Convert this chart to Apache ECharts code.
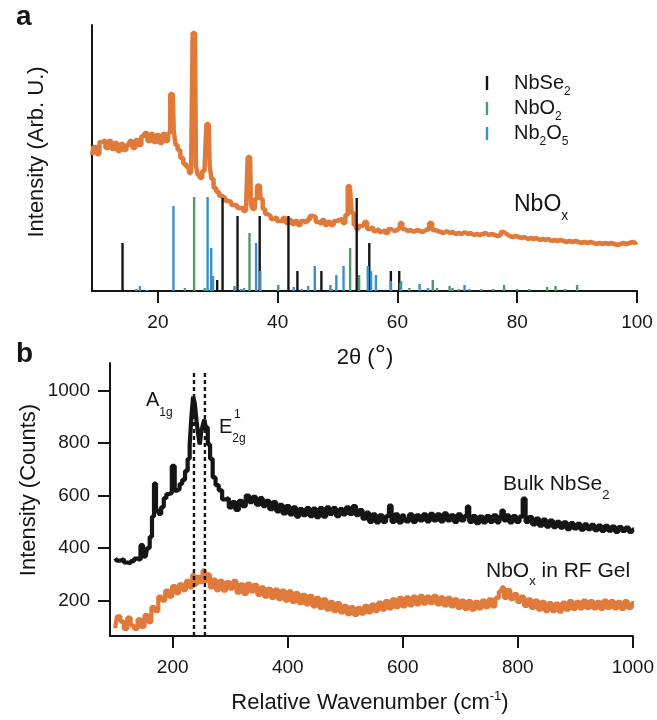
<!DOCTYPE html>
<html><head><meta charset="utf-8">
<script src="https://cdn.jsdelivr.net/npm/echarts@6/dist/echarts.min.js"></script>
<style>html,body{margin:0;padding:0;background:#fff}#c{width:657px;height:720px}</style>
</head><body><div id="c"></div>
<script>
const FONT = '"Liberation Sans", Arial, Helvetica, sans-serif';
const INK = '#151515';
const ORANGE = '#e07a3a';
const GREEN = '#4f9a6c';
const BLUE = '#3d8fcb';

// Panel a: tick labels
const xrdTicks = [20, 40, 60, 80, 100];
// Panel b: tick labels
const ramanXTicks = [200, 400, 600, 800, 1000];
const ramanYTicks = [200, 400, 600, 800, 1000];

// Panel a: XRD of NbOx (2θ, arb. intensity)
const xrdNbOx = [[9.0,136],[9.5,144],[10.0,137],[10.5,149],[11.0,151],[11.5,143],[12.0,150],[12.5,142],[13.0,148],[13.5,140],[14.0,147],[14.5,141],[15.0,146],[15.5,150],[16.0,143],[16.5,151],[17.0,146],[17.5,155],[18.0,158],[18.5,150],[19.0,157],[19.5,149],[20.0,156],[20.5,148],[21.0,157],[21.5,150],[21.9,158],[22.2,197],[22.5,197],[22.8,160],[23.1,146],[23.5,141],[24.0,133],[24.5,127],[25.0,124],[25.4,118],[25.7,121],[25.9,258],[26.2,258],[26.5,125],[26.8,116],[27.2,113],[27.6,120],[28.0,124],[28.2,167],[28.5,167],[28.8,125],[29.1,112],[29.5,103],[30.0,99],[30.5,95],[31.0,93],[31.5,90],[32.0,89],[32.5,86],[33.0,86],[33.5,83],[34.0,83],[34.5,80],[34.9,82],[35.1,134],[35.4,134],[35.7,86],[36.0,82],[36.4,92],[36.7,105],[37.0,106],[37.3,92],[37.7,82],[38.1,77],[38.6,75],[39.1,72],[39.6,74],[40.1,70],[40.6,70],[41.1,73],[41.6,68],[42.1,71],[42.6,67],[43.1,70],[43.6,66],[44.1,70],[44.6,68],[45.1,71],[45.6,75],[46.1,74],[46.6,69],[47.1,67],[47.6,71],[48.1,66],[48.6,69],[49.1,66],[49.6,70],[50.1,71],[50.6,72],[51.1,68],[51.5,76],[51.9,105],[52.2,105],[52.5,78],[52.9,66],[53.3,62],[53.7,65],[54.2,66],[54.7,69],[55.2,62],[55.7,64],[56.2,60],[56.7,62],[57.2,59],[57.7,61],[58.2,58],[58.7,62],[59.2,60],[59.7,61],[60.2,63],[60.6,68],[61.0,62],[61.5,60],[62.0,61],[62.5,59],[63.0,61],[63.5,60],[64.0,59],[64.5,61],[65.0,62],[65.6,68],[66.0,61],[66.5,60],[67.0,59],[67.5,58],[68.0,60],[68.5,58],[69.0,59],[69.5,57],[70.0,58],[70.5,57],[71.0,59],[71.5,57],[72.0,58],[72.5,56],[73.0,57],[73.5,56],[74.0,57],[74.5,58],[75.0,56],[75.5,57],[76.0,56],[76.5,55],[77.0,56],[77.5,59],[78.0,57],[78.5,55],[79.0,54],[79.5,55],[80.0,54],[80.5,53],[81.0,54],[81.5,52],[82.0,53],[82.5,52],[83.0,53],[83.5,51],[84.0,52],[84.5,51],[85.0,52],[85.5,50],[86.0,51],[86.5,50],[87.0,51],[87.5,50],[88.0,49],[88.5,50],[89.0,49],[89.5,50],[90.0,49],[90.5,48],[91.0,49],[91.5,48],[92.0,49],[92.5,48],[93.0,47],[93.5,48],[94.0,47],[94.5,48],[95.0,47],[95.5,48],[96.0,47],[96.5,46],[97.0,47],[97.5,48],[98.0,47],[98.5,48],[99.0,49],[99.5,48],[100.0,49]];

// Panel a: reference patterns (2θ, relative height)
const refNbSe2 = [[14.1,48],[29.9,11],[30.8,93],[33.3,75],[37.0,75],[41.8,75],[43.3,20],[47.3,20],[53.2,93],[55.3,48],[58.9,20],[60.3,20]];
const refNbO2 = [[16.4,2],[24.5,3],[26.05,94],[27.8,3],[33.9,2],[35.3,58],[40.1,6],[44.0,2],[49.0,2],[52.1,43],[53.6,16],[60.6,10],[62.0,3],[65.9,11],[66.6,3],[68.7,5],[70.2,2],[72.0,2],[74.0,2],[76.0,2],[77.8,6],[80.0,2],[82.0,2],[85.0,4],[86.4,5],[88.0,2],[90.0,6]];
const refNb2O5 = [[17.0,5],[18.2,1],[22.6,85],[28.3,94],[28.9,43],[29.2,15],[32.8,5],[34.4,3],[36.4,48],[37.1,20],[42.7,4],[45.1,5],[46.2,25],[48.8,6],[49.8,16],[51.0,25],[55.05,25],[55.6,20],[56.4,16],[58.9,10],[60.5,8],[63.7,7],[65.1,3],[69.2,3],[71.2,6]];

// Panel b: Raman spectra (cm-1, counts)
const ramanBulk = [[100,361],[106,352],[112,358],[118,345],[124,342],[130,350],[136,360],[141,355],[147,411],[150,368],[153,367],[158,400],[162,443],[166,520],[169,646],[173,543],[178,530],[182,556],[187,590],[191,606],[196,610],[201,713],[206,619],[210,625],[214,644],[219,660],[224,694],[228,740],[231,795],[234,900],[237,977],[240,950],[243,883],[246,830],[248,795],[251,840],[254,870],[256,889],[259,860],[263,795],[267,740],[272,669],[277,640],[283,620],[289,585],[295,590],[300,555],[306,575],[312,545],[318,580],[324,560],[330,600],[336,575],[342,595],[348,565],[354,590],[359,560],[365,580],[371,548],[377,575],[383,540],[388,565],[394,532],[400,560],[406,528],[412,555],[417,520],[423,548],[429,525],[435,552],[441,522],[446,550],[452,518],[458,552],[464,520],[470,555],[475,530],[481,552],[487,522],[493,548],[498,528],[504,555],[510,530],[516,560],[521,525],[527,545],[533,512],[539,535],[544,500],[550,528],[556,498],[562,525],[568,500],[574,522],[578,562],[583,500],[589,528],[595,498],[602,525],[608,502],[614,528],[620,500],[626,525],[632,505],[638,528],[644,502],[650,530],[656,505],[662,528],[668,502],[674,532],[680,505],[686,525],[692,500],[698,528],[704,505],[710,522],[713,558],[718,500],[724,522],[730,495],[736,520],[742,498],[748,522],[754,500],[760,525],[766,498],[770,520],[773,543],[778,505],[782,525],[788,498],[794,522],[800,500],[806,520],[811,588],[816,500],[822,518],[828,490],[834,512],[840,485],[846,508],[852,482],[858,505],[864,480],[870,500],[876,478],[882,498],[888,472],[894,495],[900,475],[906,492],[912,470],[918,490],[924,472],[930,488],[936,468],[942,486],[948,465],[954,485],[960,466],[966,482],[972,462],[978,480],[984,465],[990,478],[996,462],[1002,470]];
const ramanGel = [[100,95],[106,140],[112,120],[118,92],[124,135],[130,105],[136,92],[142,128],[148,100],[154,145],[160,118],[166,175],[172,160],[178,215],[184,200],[190,238],[196,215],[202,255],[208,228],[214,262],[220,240],[226,275],[232,250],[236,298],[240,262],[245,290],[250,270],[254,315],[258,275],[262,300],[267,250],[272,280],[278,240],[284,275],[290,238],[296,270],[302,245],[308,275],[314,230],[320,262],[326,225],[332,265],[338,235],[344,260],[350,222],[356,250],[362,215],[368,245],[374,210],[380,242],[386,205],[392,238],[398,200],[404,235],[410,195],[416,228],[422,190],[428,222],[434,185],[440,218],[446,178],[452,210],[458,172],[464,205],[470,165],[476,195],[482,160],[488,190],[494,155],[500,180],[506,148],[512,175],[518,145],[524,172],[530,150],[536,180],[542,155],[548,185],[554,160],[560,192],[566,165],[572,198],[578,170],[584,205],[590,175],[596,210],[602,178],[608,212],[614,182],[620,215],[626,185],[632,218],[638,188],[644,215],[650,190],[656,218],[662,185],[668,212],[674,182],[680,210],[686,178],[692,205],[698,172],[704,200],[710,168],[716,198],[722,165],[728,195],[734,170],[740,200],[746,175],[752,205],[758,178],[764,210],[770,235],[774,250],[778,210],[784,240],[790,205],[796,225],[802,195],[808,215],[814,180],[820,205],[826,172],[832,200],[838,165],[844,195],[850,160],[856,190],[862,160],[868,188],[874,158],[880,192],[886,165],[892,198],[898,168],[904,195],[910,170],[916,200],[922,172],[928,198],[934,170],[940,195],[946,168],[952,200],[958,172],[964,198],[970,170],[976,195],[982,168],[988,198],[994,172],[1002,190]];

// Panel b: Raman mode positions (A1g, E2g1) and dashed-line top
const modeLines = [237, 256];
const modeLineTop = 1070;

const chart = echarts.init(document.getElementById('c'), null, {renderer: 'canvas'});

function stickSeries(name, data, color) {
  return {
    name, type: 'custom', xAxisIndex: 0, yAxisIndex: 0, z: 5,
    dimensions: ['x', 'y'], encode: {x: 0, y: 1},
    data,
    renderItem(params, api) {
      const p0 = api.coord([api.value(0), 0]);
      const p1 = api.coord([api.value(0), api.value(1)]);
      return {type: 'line', shape: {x1: p0[0], y1: p0[1], x2: p1[0], y2: p1[1]},
              style: {stroke: color, lineWidth: 2.4}};
    }
  };
}

const axisLineStyle = {show: true, lineStyle: {color: INK, width: 2}};
const tickStyle = {show: true, inside: false, length: 12, lineStyle: {color: INK, width: 2}};
const labelBase = {fontFamily: FONT, fontSize: 19, color: INK, formatter: v => String(v)};

function txt(x, y, text, size, opts) {
  opts = opts || {};
  return {
    type: 'text', x, y, rotation: opts.rotation || 0, z: 100,
    style: Object.assign({
      text, fontFamily: FONT, fontSize: size, fontWeight: opts.bold ? 'bold' : 'normal',
      fill: INK, align: opts.align || 'left', verticalAlign: 'middle'
    }, opts.rich ? {rich: opts.rich} : {})
  };
}
function subRich(main, pad) {
  return {
    m: {fontFamily: FONT, fontSize: main, fill: INK},
    s: {fontFamily: FONT, fontSize: Math.round(main * 0.62), fill: INK, padding: [pad, 0, 0, 0]}
  };
}

const option = {
  animation: false,
  backgroundColor: '#ffffff',
  grid: [
    {left: 92, right: 20, top: 25, height: 266, containLabel: false},
    {left: 110, right: 23, top: 363, bottom: 84, containLabel: false}
  ],
  xAxis: [
    {type: 'value', gridIndex: 0, min: 9, max: 100,
     axisLine: axisLineStyle, axisTick: Object.assign({customValues: xrdTicks}, tickStyle),
     axisLabel: Object.assign({customValues: xrdTicks, margin: 22}, labelBase),
     splitLine: {show: false}},
    {type: 'value', gridIndex: 1, min: 91, max: 1000,
     axisLine: axisLineStyle, axisTick: Object.assign({customValues: ramanXTicks}, tickStyle),
     axisLabel: Object.assign({customValues: ramanXTicks, margin: 22}, labelBase),
     splitLine: {show: false}}
  ],
  yAxis: [
    {type: 'value', gridIndex: 0, min: 0, max: 266,
     axisLine: axisLineStyle, axisTick: {show: false}, axisLabel: {show: false},
     splitLine: {show: false}},
    {type: 'value', gridIndex: 1, min: 65, max: 1105,
     axisLine: axisLineStyle, axisTick: Object.assign({customValues: ramanYTicks}, tickStyle),
     axisLabel: Object.assign({customValues: ramanYTicks, margin: 20}, labelBase),
     splitLine: {show: false}}
  ],
  series: [
    {name: 'NbOx XRD', type: 'line', xAxisIndex: 0, yAxisIndex: 0, data: xrdNbOx,
     showSymbol: false, step: 'middle', z: 2,
     lineStyle: {color: ORANGE, width: 4.5}},
    stickSeries('NbSe2', refNbSe2, INK),
    stickSeries('NbO2', refNbO2, GREEN),
    stickSeries('Nb2O5', refNb2O5, BLUE),
    {name: 'Bulk NbSe2', type: 'line', xAxisIndex: 1, yAxisIndex: 1, data: ramanBulk,
     showSymbol: false, step: 'middle', z: 3,
     lineStyle: {color: INK, width: 4.2}},
    {name: 'NbOx in RF Gel', type: 'line', xAxisIndex: 1, yAxisIndex: 1, data: ramanGel,
     showSymbol: false, step: 'middle', z: 3,
     lineStyle: {color: ORANGE, width: 4.2}},
    ...modeLines.map((w, i) => ({
      name: 'mode' + i, type: 'line', xAxisIndex: 1, yAxisIndex: 1,
      data: [[w, 65], [w, modeLineTop]], showSymbol: false, z: 6,
      lineStyle: {color: INK, width: 2.4, type: [4, 3]}
    }))
  ],
  graphic: [
    txt(16, 17, 'a', 28, {bold: true}),
    txt(16, 354, 'b', 28, {bold: true}),
    txt(37, 152, 'Intensity (Arb. U.)', 22, {align: 'center', rotation: Math.PI / 2}),
    txt(29, 490, 'Intensity (Counts)', 22, {align: 'center', rotation: Math.PI / 2}),
    txt(365, 358, '{m|2θ (}{d|°}{m|)}', 22, {align: 'center', rich: {
      m: {fontFamily: FONT, fontSize: 22, fill: INK},
      d: {fontFamily: FONT, fontSize: 28, fill: INK, padding: [0, 0, 4, 0]}}}),
    txt(370, 703, '{m|Relative Wavenumber (cm}{s|-1}{m|)}', 22, {align: 'center', rich: {
      m: {fontFamily: FONT, fontSize: 22, fill: INK},
      s: {fontFamily: FONT, fontSize: 13, fill: INK, padding: [0, 0, 14, 0]}}}),
    // legend
    {type: 'line', z: 100, shape: {x1: 487, y1: 76, x2: 487, y2: 90}, style: {stroke: INK, lineWidth: 2.4}},
    {type: 'line', z: 100, shape: {x1: 487, y1: 102, x2: 487, y2: 115}, style: {stroke: GREEN, lineWidth: 2.4}},
    {type: 'line', z: 100, shape: {x1: 487, y1: 127, x2: 487, y2: 140}, style: {stroke: BLUE, lineWidth: 2.4}},
    txt(514, 83, '{m|NbSe}{s|2}', 20, {rich: subRich(20, 18)}),
    txt(514, 108, '{m|NbO}{s|2}', 20, {rich: subRich(20, 18)}),
    txt(514, 133, '{m|Nb}{s|2}{m|O}{s|5}', 20, {rich: subRich(20, 18)}),
    txt(514, 205, '{m|NbO}{s|x}', 23, {rich: subRich(23, 22)}),
    // panel b annotations
    txt(146, 400, '{m|A}{s|1g}', 20, {rich: subRich(20, 26)}),
    txt(219, 427, '{m|E}{s|2g}', 20, {rich: subRich(20, 24)}),
    txt(234, 415, '1', 12),
    txt(503, 484, '{m|Bulk NbSe}{s|2}', 21, {rich: subRich(21, 22)}),
    txt(486, 571, '{m|NbO}{s|x}{m| in RF Gel}', 21, {rich: subRich(21, 20)})
  ]
};
chart.setOption(option);
</script></body></html>
